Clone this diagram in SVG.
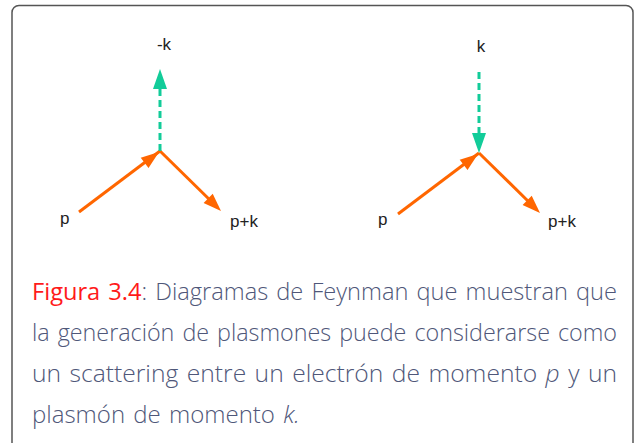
<svg xmlns="http://www.w3.org/2000/svg" xmlns:xlink="http://www.w3.org/1999/xlink" width="638" height="443" viewBox="0 0 638 443">
<style>
.lbl{font-family:"Liberation Sans",Arial,sans-serif;font-size:17px;fill:#222}
.e{stroke:#ff6600;stroke-width:3;fill:none}
.ph{stroke:#12cc99;stroke-width:3;fill:none;stroke-dasharray:7 4}
.cap{font-family:"Open Sans","Noto Sans",sans-serif;font-weight:300;font-size:24px;fill:#4f5779;word-spacing:2px}
.red{fill:#ff1a1a;font-weight:400}
</style>
<defs>
<path id="ao" d="M0,0 L-18,-6.5 L-18,6.5 Z" fill="#ff6600"/>
<path id="at" d="M0,0 L-20,-7 L-20,7 Z" fill="#12cc99"/>
</defs>
<rect x="12" y="5.5" width="621" height="480" rx="7" fill="#fff" stroke="#555" stroke-width="1.5"/>
<g id="connectors">
<line class="e" x1="79" y1="212" x2="160" y2="151"/>
<use xlink:href="#ao" transform="translate(159,152) rotate(-37)"/>
<line class="e" x1="160" y1="151" x2="214" y2="204"/>
<use xlink:href="#ao" transform="translate(221,211) rotate(44.5)"/>
<line class="ph" x1="160" y1="151" x2="160" y2="88"/>
<use xlink:href="#at" transform="translate(160,69) rotate(-90)"/>
<line class="e" x1="398" y1="214" x2="479" y2="153"/>
<use xlink:href="#ao" transform="translate(478,154) rotate(-37)"/>
<line class="e" x1="479" y1="153" x2="533" y2="206"/>
<use xlink:href="#ao" transform="translate(540,213) rotate(44.5)"/>
<line class="ph" x1="479" y1="72" x2="479" y2="133"/>
<use xlink:href="#at" transform="translate(479,153) rotate(90)"/>
</g>
<g id="labels">
<text class="lbl" x="164" y="50" text-anchor="middle">-k</text>
<text class="lbl" x="60" y="224">p</text>
<text class="lbl" x="230" y="227">p+k</text>
<text class="lbl" x="481" y="52" text-anchor="middle">k</text>
<text class="lbl" x="378" y="225">p</text>
<text class="lbl" x="548" y="227">p+k</text>
</g>
<g id="caption">
<text class="cap" x="32" y="300" textLength="585" lengthAdjust="spacingAndGlyphs"><tspan class="red">Figura 3.4</tspan>: Diagramas de Feynman que muestran que</text>
<text class="cap" x="32" y="341" textLength="585" lengthAdjust="spacingAndGlyphs">la generación de plasmones puede considerarse como</text>
<text class="cap" x="32" y="382" textLength="585" lengthAdjust="spacingAndGlyphs">un scattering entre un electrón de momento <tspan font-style="italic">p</tspan> y un</text>
<text class="cap" x="32" y="423">plasmón de momento <tspan font-style="italic">k.</tspan></text>
</g>
</svg>
